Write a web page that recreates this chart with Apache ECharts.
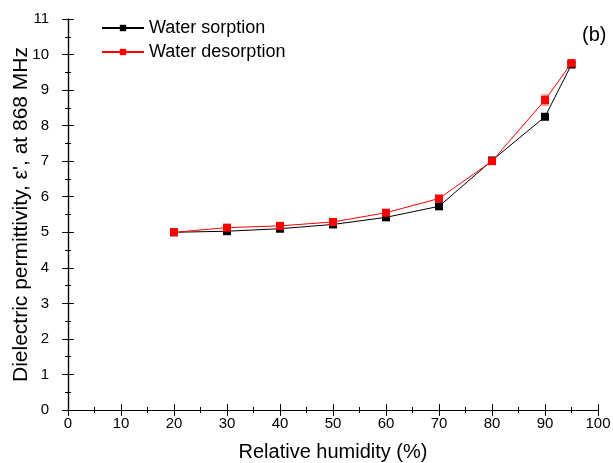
<!DOCTYPE html>
<html>
<head>
<meta charset="utf-8">
<script src="https://cdn.jsdelivr.net/npm/echarts@6/dist/echarts.min.js"></script>
<style>html,body{margin:0;padding:0;background:#fff}#c{width:613px;height:463px}</style>
</head>
<body>
<div id="c"></div>
<script>
// Relative humidity (%) and permittivity readings at 868 MHz
const humidity = [20, 30, 40, 50, 60, 70, 80, 90, 95];
const sorption = [5.0, 5.03, 5.1, 5.22, 5.42, 5.73, 7.02, 8.25, 9.72];
const sorptionErr = [0.05, 0.04, 0.04, 0.05, 0.05, 0.06, 0.07, 0.08, 0.07];
const desorption = [5.0, 5.13, 5.18, 5.29, 5.55, 5.95, 7.0, 8.72, 9.76];
const desorptionErr = [0.05, 0.05, 0.05, 0.05, 0.06, 0.06, 0.06, 0.14, 0.07];
const xTicks = [0, 10, 20, 30, 40, 50, 60, 70, 80, 90, 100];
const yTicks = [0, 1, 2, 3, 4, 5, 6, 7, 8, 9, 10, 11];

const FONT = 'Liberation Sans, Arial, sans-serif';
const chart = echarts.init(document.getElementById('c'));

function pairs(xs, ys) { return xs.map((x, i) => [x, ys[i]]); }
function errData(xs, ys, es) { return xs.map((x, i) => [x, ys[i] - es[i], ys[i] + es[i]]); }

function errorBars(color) {
  return function (params, api) {
    const lo = api.coord([api.value(0), api.value(1)]);
    const hi = api.coord([api.value(0), api.value(2)]);
    const w = 4;
    const st = { stroke: color, lineWidth: 1 };
    return {
      type: 'group',
      children: [
        { type: 'line', shape: { x1: lo[0], y1: lo[1], x2: hi[0], y2: hi[1] }, style: st },
        { type: 'line', shape: { x1: lo[0] - w, y1: lo[1], x2: lo[0] + w, y2: lo[1] }, style: st },
        { type: 'line', shape: { x1: hi[0] - w, y1: hi[1], x2: hi[0] + w, y2: hi[1] }, style: st }
      ]
    };
  };
}

const axisLine = { show: true, lineStyle: { color: '#000', width: 1.2 } };
const tick = { inside: true, length: 6, lineStyle: { color: '#000' } };
const minor = { show: true, splitNumber: 2, length: 3, lineStyle: { color: '#000' } };
const xMin = xTicks[0], xMax = xTicks[xTicks.length - 1];
const yMin = yTicks[0], yMax = yTicks[yTicks.length - 1];

chart.setOption({
  animation: false,
  backgroundColor: '#fff',
  grid: { left: 68, right: 15, top: 19, bottom: 53, containLabel: false, outerBoundsMode: 'none' },
  legend: {
    left: 96, top: 14, orient: 'vertical', itemGap: 6,
    itemWidth: 42, itemHeight: 8,
    textStyle: { fontFamily: FONT, fontSize: 18, color: '#000' },
    data: ['Water sorption', 'Water desorption']
  },
  graphic: [
    { type: 'text', left: 582, top: 25, style: { text: '(b)', fontFamily: FONT, fontSize: 20, fill: '#000' } }
  ],
  xAxis: [
    {
      type: 'value', min: xMin, max: xMax, interval: 10,
      name: 'Relative humidity (%)', nameLocation: 'middle', nameGap: 32,
      nameTextStyle: { fontFamily: FONT, fontSize: 20, color: '#000' },
      axisLine, axisTick: tick, minorTick: minor,
      axisLabel: { fontFamily: FONT, fontSize: 15, color: '#000', margin: 6 },
      splitLine: { show: false }
    },
    {
      type: 'value', position: 'top', min: xMin, max: xMax, interval: 10,
      axisLine, axisTick: tick, minorTick: minor,
      axisLabel: { show: false }, splitLine: { show: false }
    }
  ],
  yAxis: [
    {
      type: 'value', min: yMin, max: yMax, interval: 1,
      name: "Dielectric permittivity, \u03b5', at 868 MHz", nameLocation: 'middle', nameGap: 36,
      nameMoveOverlap: false,
      nameTextStyle: { fontFamily: FONT, fontSize: 21, color: '#000' },
      axisLine, axisTick: tick, minorTick: minor,
      axisLabel: { fontFamily: FONT, fontSize: 15, color: '#000', margin: 19 },
      splitLine: { show: false }
    },
    {
      type: 'value', position: 'right', min: yMin, max: yMax, interval: 1,
      axisLine, axisTick: tick, minorTick: minor,
      axisLabel: { show: false }, splitLine: { show: false }
    }
  ],
  series: [
    {
      name: 'Water sorption', type: 'line', data: pairs(humidity, sorption),
      symbol: 'rect', symbolSize: 8, z: 3,
      itemStyle: { color: '#000' }, lineStyle: { color: '#000', width: 1 }
    },
    {
      type: 'custom', data: errData(humidity, sorption, sorptionErr), z: 2,
      renderItem: errorBars('#000'), silent: true
    },
    {
      name: 'Water desorption', type: 'line', data: pairs(humidity, desorption),
      symbol: 'rect', symbolSize: 8, z: 5,
      itemStyle: { color: '#ff0000' }, lineStyle: { color: '#ff0000', width: 1 }
    },
    {
      type: 'custom', data: errData(humidity, desorption, desorptionErr), z: 4,
      renderItem: errorBars('#ff4040'), silent: true
    }
  ]
});
</script>
</body>
</html>
